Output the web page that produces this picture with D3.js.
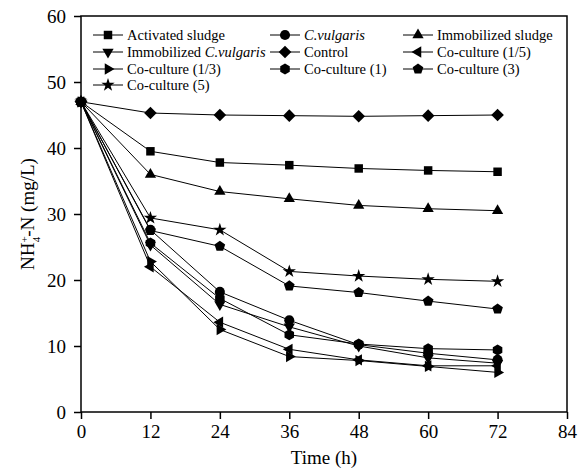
<!DOCTYPE html>
<html>
<head>
<meta charset="utf-8">
<script src="https://cdn.jsdelivr.net/npm/d3@7"></script>
<style>
  body { margin: 0; background: #fff; }
  text { font-family: "Liberation Serif", "Times New Roman", serif; fill: #000; }
</style>
</head>
<body>
<script>
const hours = [0, 12, 24, 36, 48, 60, 72];
const xTicks = [0, 12, 24, 36, 48, 60, 72, 84];
const yTicks = [0, 10, 20, 30, 40, 50, 60];

const activatedSludge = [47, 39.5, 37.8, 37.4, 36.9, 36.6, 36.4];
const cVulgaris = [47, 27.6, 18.2, 13.9, 10.2, 8.9, 7.9];
const immobilizedSludge = [47, 36.0, 33.4, 32.3, 31.3, 30.8, 30.5];
const immobilizedCV = [47, 25.3, 16.3, 12.9, 10.0, 8.2, 7.4];
const control = [47, 45.3, 45.0, 44.9, 44.8, 44.9, 45.0];
const coCulture15 = [47, 22.0, 13.6, 9.5, 7.9, 7.0, 7.0];
const coCulture13 = [47, 22.8, 12.5, 8.4, 7.8, 6.9, 6.0];
const coCulture1 = [47, 25.6, 17.2, 11.7, 10.3, 9.6, 9.4];
const coCulture3 = [47, 27.5, 25.1, 19.1, 18.1, 16.8, 15.6];
const coCulture5 = [47, 29.4, 27.6, 21.3, 20.6, 20.1, 19.8];

const series = [
  { name: "Activated sludge", values: activatedSludge, shape: "square" },
  { name: "C.vulgaris", values: cVulgaris, shape: "circle", italic: true },
  { name: "Immobilized sludge", values: immobilizedSludge, shape: "triUp" },
  { name: "Immobilized C.vulgaris", values: immobilizedCV, shape: "triDown", italicPart: "C.vulgaris" },
  { name: "Control", values: control, shape: "diamond" },
  { name: "Co-culture (1/5)", values: coCulture15, shape: "triLeft" },
  { name: "Co-culture (1/3)", values: coCulture13, shape: "triRight" },
  { name: "Co-culture (1)", values: coCulture1, shape: "hexagon" },
  { name: "Co-culture (3)", values: coCulture3, shape: "pentagon" },
  { name: "Co-culture (5)", values: coCulture5, shape: "star" }
];

const width = 580, height = 472;
const plotL = 81, plotR = 567, plotT = 16, plotB = 412;
const serif = '"Liberation Serif", "Times New Roman", serif';

const svg = d3.select("body").append("svg")
  .attr("width", width)
  .attr("height", height);

const x = d3.scaleLinear().domain([0, 84]).range([plotL, plotR]);
const y = d3.scaleLinear().domain([0, 60]).range([plotB, plotT]);

function polygon(n, r, rot) {
  const pts = d3.range(n).map(i => {
    const a = rot + i * 2 * Math.PI / n;
    return [r * Math.cos(a), r * Math.sin(a)];
  });
  return "M" + pts.map(p => p.join(",")).join("L") + "Z";
}

function markerPath(shape) {
  switch (shape) {
    case "square": return d3.symbol(d3.symbolSquare, 72)();
    case "circle": return d3.symbol(d3.symbolCircle, 80)();
    case "diamond": return polygon(4, 6.3, -Math.PI / 2);
    case "star": return d3.symbol(d3.symbolStar, 55)();
    case "triUp": return polygon(3, 6.5, -Math.PI / 2);
    case "triDown": return polygon(3, 6.5, Math.PI / 2);
    case "triLeft": return polygon(3, 6.5, Math.PI);
    case "triRight": return polygon(3, 6.5, 0);
    case "hexagon": return polygon(6, 5.5, -Math.PI / 2);
    case "pentagon": return polygon(5, 5.6, -Math.PI / 2);
  }
}

// frame
svg.append("rect")
  .attr("x", plotL).attr("y", plotT)
  .attr("width", plotR - plotL).attr("height", plotB - plotT)
  .attr("fill", "none").attr("stroke", "#000").attr("stroke-width", 1.5);

const xAxis = svg.append("g")
  .attr("transform", `translate(0,${plotB})`)
  .call(d3.axisBottom(x).tickValues(xTicks).tickSize(7).tickPadding(6));
const yAxis = svg.append("g")
  .attr("transform", `translate(${plotL},0)`)
  .call(d3.axisLeft(y).tickValues(yTicks).tickSize(7).tickPadding(8));

[xAxis, yAxis].forEach(g => {
  g.select(".domain").remove();
  g.selectAll("line").attr("stroke", "#000").attr("stroke-width", 1.5);
  g.selectAll("text")
    .style("font-family", serif)
    .style("font-size", "19px")
    .attr("fill", "#000");
});

svg.append("text")
  .attr("x", (plotL + plotR) / 2)
  .attr("y", 464)
  .attr("text-anchor", "middle")
  .style("font-family", serif)
  .style("font-size", "19px")
  .text("Time (h)");

const yl = svg.append("text")
  .attr("transform", `translate(34,${(plotT + plotB) / 2}) rotate(-90)`)
  .attr("text-anchor", "middle")
  .style("font-family", serif)
  .style("font-size", "19px");
yl.append("tspan").text("NH");
yl.append("tspan").attr("baseline-shift", "super").style("font-size", "11px").text("+");
yl.append("tspan").attr("dx", -6).attr("baseline-shift", "sub").style("font-size", "11px").text("4");
yl.append("tspan").text("-N (mg/L)");

// series
const line = d3.line().x((d, i) => x(hours[i])).y(d => y(d));

const plot = svg.append("g");
series.forEach(s => {
  const g = plot.append("g");
  g.append("path")
    .attr("d", line(s.values))
    .attr("fill", "none")
    .attr("stroke", "#000")
    .attr("stroke-width", 1);
  g.selectAll("path.m")
    .data(s.values)
    .enter()
    .append("path")
    .attr("class", "m")
    .attr("d", markerPath(s.shape))
    .attr("transform", (d, i) => `translate(${x(hours[i])},${y(d)})`)
    .attr("fill", "#000");
});

// legend
const colX = [93, 270, 403];
const rowY = [35, 52, 69, 85];
const legend = svg.append("g");
series.forEach((s, i) => {
  const cx = colX[i % 3], cy = rowY[Math.floor(i / 3)];
  const g = legend.append("g").attr("transform", `translate(${cx},${cy})`);
  g.append("line").attr("x1", 0).attr("x2", 30).attr("y1", 0).attr("y2", 0)
    .attr("stroke", "#000").attr("stroke-width", 1);
  g.append("path").attr("d", markerPath(s.shape))
    .attr("transform", "translate(15,0)").attr("fill", "#000");
  const t = g.append("text").attr("x", 34).attr("y", 4.5)
    .style("font-family", serif)
    .style("font-size", "14.5px");
  if (s.italic) {
    t.append("tspan").style("font-style", "italic").text(s.name);
  } else if (s.italicPart) {
    t.append("tspan").text(s.name.replace(s.italicPart, ""));
    t.append("tspan").style("font-style", "italic").text(s.italicPart);
  } else {
    t.text(s.name);
  }
});
</script>
</body>
</html>
